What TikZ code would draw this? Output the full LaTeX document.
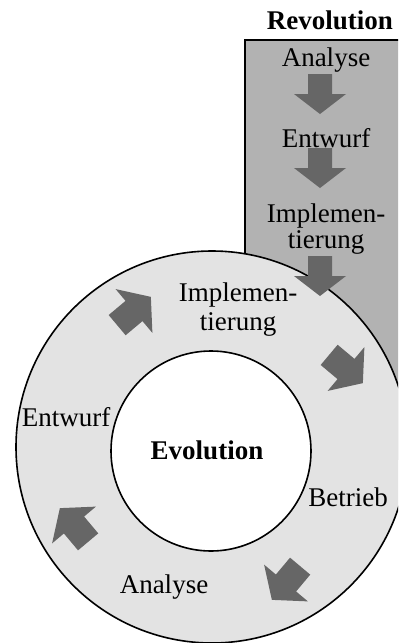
\documentclass[tikz,border=0pt]{standalone}
\usepackage{fontspec}
\setmainfont{Liberation Serif}
\usetikzlibrary{positioning}
\definecolor{boxgray}{gray}{0.70}
\definecolor{ringgray}{gray}{0.89}
\definecolor{arrowgray}{gray}{0.40}
\tikzset{
  phase/.style={font=\fontsize{13.5}{12}\selectfont, align=center, inner sep=1pt},
  title/.style={font=\bfseries\fontsize{13.5}{14}\selectfont, inner sep=1pt},
  blockarrow/.pic={
    \fill[arrowgray] (-20,-12) -- (0,-12) -- (0,-26) -- (20,0) -- (0,26)
      -- (0,12) -- (-20,12) -- cycle;
  }
}

\begin{document}
\begin{tikzpicture}[x=0.5pt, y=-0.5pt]
  \clip (0,0) rectangle (398,643);
  \useasboundingbox (0,0) rectangle (398,643);

  % Revolution
  \fill[boxgray] (245,40) rectangle (410,460);
  \draw[thick] (245,460) -- (245,40) -- (410,40);
  \node[title] (rev) at (330,20) {Revolution};
  \node[phase] (rana) at (326,60) {Analyse};
  \node[phase] (rent) at (326,138) {Entwurf};
  \node[phase, font=\fontsize{13.5}{11.5}\selectfont] (rimp) at (326,229) {Implemen-\\tierung};

  % Evolution
  \draw[thick, fill=ringgray] (212,447) circle (196);
  \draw[thick, fill=white] (211,451) circle (100);
  \node[title] (evo) at (207,450) {Evolution};
  \node[phase, font=\fontsize{13.5}{14.5}\selectfont] (eimp) at (238,310) {Implemen-\\tierung};
  \node[phase] (ebet) at (348,497) {Betrieb};
  \node[phase] (eana) at (164,587) {Analyse};
  \node[phase] (eent) at (66,417) {Entwurf};

  % arrows
  \pic[rotate=-90] at (320,94) {blockarrow};
  \pic[rotate=-90] at (320,168) {blockarrow};
  \pic[rotate=-90] at (320,276) {blockarrow};
  \pic[rotate=40, scale=1.1] at (134,311) {blockarrow};
  \pic[rotate=-40, scale=1.1] at (346,369) {blockarrow};
  \pic[rotate=-130, scale=1.1] at (286,583) {blockarrow};
  \pic[rotate=130, scale=1.1] at (74,525) {blockarrow};
\end{tikzpicture}
\end{document}
